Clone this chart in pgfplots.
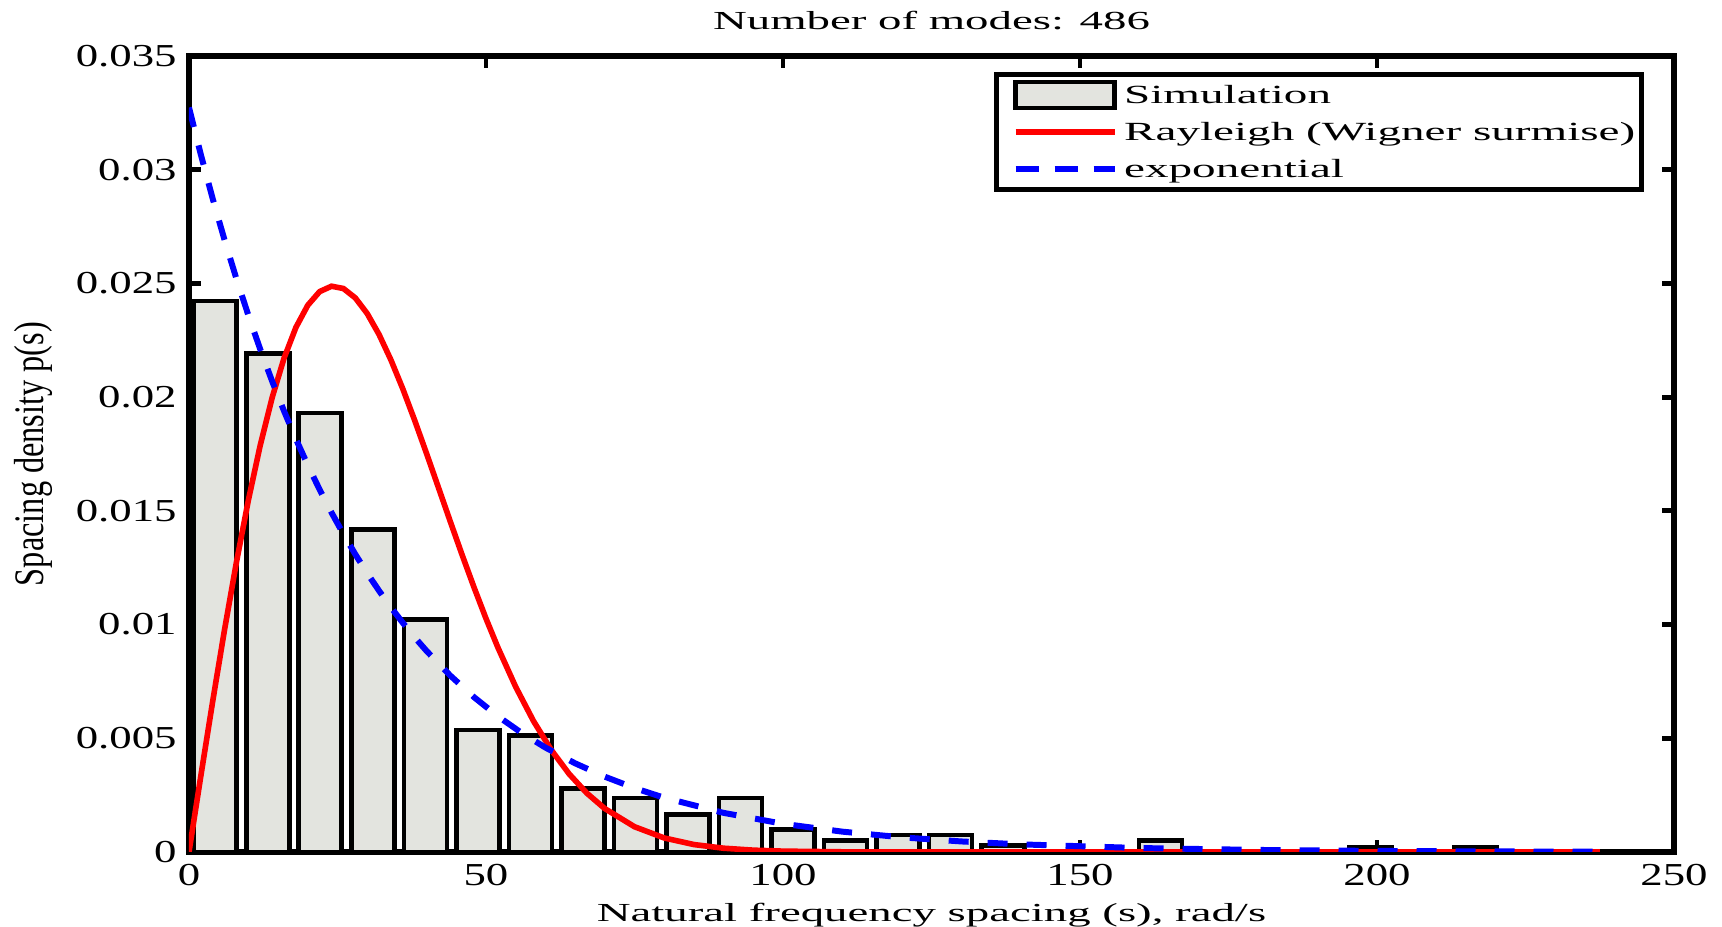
\documentclass[border=0pt]{standalone}
\usepackage{pgfplots}
\pgfplotsset{compat=1.18}
\usepackage{fontspec}
\setmainfont{Liberation Serif}
\newfontfamily\widefont{Liberation Serif}[FakeStretch=1.8]
\newfontfamily\tickfont{Liberation Serif}[FakeStretch=1.4]
\definecolor{barfill}{RGB}{227,228,223}

\begin{document}
\begin{tikzpicture}
\useasboundingbox (-1.89cm,-0.75cm) rectangle (15.33cm,8.52cm);
\begin{axis}[
    at={(0,0)}, anchor=south west,
    scale only axis,
    width=14.85cm, height=7.96cm,
    xmin=0, xmax=250, ymin=0, ymax=0.035,
    scaled x ticks=false, scaled y ticks=false,
    xtick={0,50,100,150,200,250},
    xticklabels={0,50,100,150,200,250},
    ytick={0,0.005,0.01,0.015,0.02,0.025,0.03,0.035},
    yticklabels={0,0.005,0.01,0.015,0.02,0.025,0.03,0.035},
    tick align=inside,
    xtick pos=both, ytick pos=both,
    major tick length=1.2mm,
    axis line style={line width=1.6pt},
    every tick/.style={black, line width=1.4pt},
    tick label style={font=\tickfont\fontsize{9.1}{10}\selectfont},
    title={Number of modes: 486},
    every axis title/.style={at={(axis description cs:0.5,1.044)}, anchor=center,
        font=\widefont\fontsize{7.4}{9}\selectfont},
    xlabel={Natural frequency spacing (s), rad/s},
    xlabel style={at={(axis description cs:0.5,-0.079)}, anchor=center,
        font=\widefont\fontsize{7.4}{9}\selectfont},
    ylabel={Spacing density p(s)},
    ylabel style={at={(axis description cs:-0.105,0.5)}, anchor=center, yscale=1.3,
        font=\fontsize{9.2}{10}\selectfont},
    legend cell align=left,
    legend style={at={(axis description cs:0.98,0.98)}, anchor=north east,
        draw=black, line width=1.4pt, fill=white,
        inner xsep=0pt, inner ysep=0.2mm,
        font=\widefont\fontsize{7.45}{9}\selectfont,
        nodes={text height=2.1mm, text depth=0.4mm, inner ysep=0.6mm, inner xsep=0.65mm},
        /tikz/every even column/.append style={column sep=0.4mm}},
]

% histogram (density)
\addplot[ybar, bar width=7.24, bar shift=0pt, fill=barfill, draw=black, line width=1.3pt,
    legend image code/.code={\path (-1.6mm,0);\draw[fill=barfill, draw=black, line width=1.3pt] (0cm,-0.13cm) rectangle (0.99cm,0.13cm);}]
coordinates {
(4.42,0.02423) (13.26,0.02192) (22.10,0.01931) (30.94,0.01419) (39.78,0.01023)
(48.62,0.00536) (57.46,0.00512) (66.30,0.00280) (75.14,0.00237) (83.98,0.00166)
(92.82,0.00237) (101.66,0.00098) (110.50,0.00051) (119.34,0.00075) (128.18,0.00075)
(137.02,0.00029) (163.54,0.00050) (198.90,0.00022) (216.58,0.00022)
};
\addlegendentry{Simulation}

% Rayleigh (Wigner surmise)
\addplot[red, line width=1.6pt,
    legend image code/.code={\path (-1.6mm,0);\draw[red, line width=1.6pt] (0cm,0cm) -- (0.99cm,0cm);}]
coordinates {
(0,0) (2,0.003355) (4,0.006642) (6,0.009797) (8,0.012759) (10,0.015473)
(12,0.017892) (14,0.019981) (16,0.021711) (18,0.023066) (20,0.024041)
(22,0.024641) (24,0.024877) (26,0.024775) (28,0.024362) (30,0.023676)
(32,0.022752) (34,0.021633) (36,0.020360) (38,0.018974) (40,0.017516)
(42,0.016020) (44,0.014522) (46,0.013048) (48,0.011625) (50,0.010265)
(52,0.008993) (55,0.007260) (58,0.005757) (61,0.004483) (64,0.003431)
(67,0.002580) (70,0.001908) (75,0.001111) (80,0.000617) (85,0.000327)
(90,0.000166) (95,0.000080) (100,0.000037) (110,0.000007) (120,0.000001)
(150,0) (200,0) (237.5,0)
};
\addlegendentry{Rayleigh (Wigner surmise)}

% exponential
\addplot[blue, line width=1.7pt, dash pattern=on 2mm off 1.9mm,
    legend image code/.code={\path (-1.6mm,0);\draw[blue, line width=1.7pt, dash pattern=on 2.3mm off 1.6mm] (0cm,0cm) -- (0.99cm,0cm);}]
coordinates {
(0,0.032733) (2,0.030659) (4,0.028716) (6,0.026896) (8,0.025192) (10,0.023597)
(12,0.022099) (14,0.020699) (16,0.019388) (18,0.018159) (20,0.017010)
(22,0.015931) (24,0.014922) (26,0.013976) (28,0.013090) (30,0.012261)
(32,0.011484) (34,0.010756) (36,0.010075) (38,0.009436) (40,0.008838)
(44,0.007754) (48,0.006803) (52,0.005968) (56,0.005235) (60,0.004592)
(65,0.003900) (70,0.003311) (75,0.002811) (80,0.002386) (90,0.001720)
(100,0.001240) (110,0.000894) (120,0.000644) (130,0.000464) (140,0.000335)
(160,0.000174) (180,0.000090) (200,0.000047) (220,0.000024) (237,0.000014)
};
\addlegendentry{exponential}

\end{axis}
\end{tikzpicture}
\end{document}
